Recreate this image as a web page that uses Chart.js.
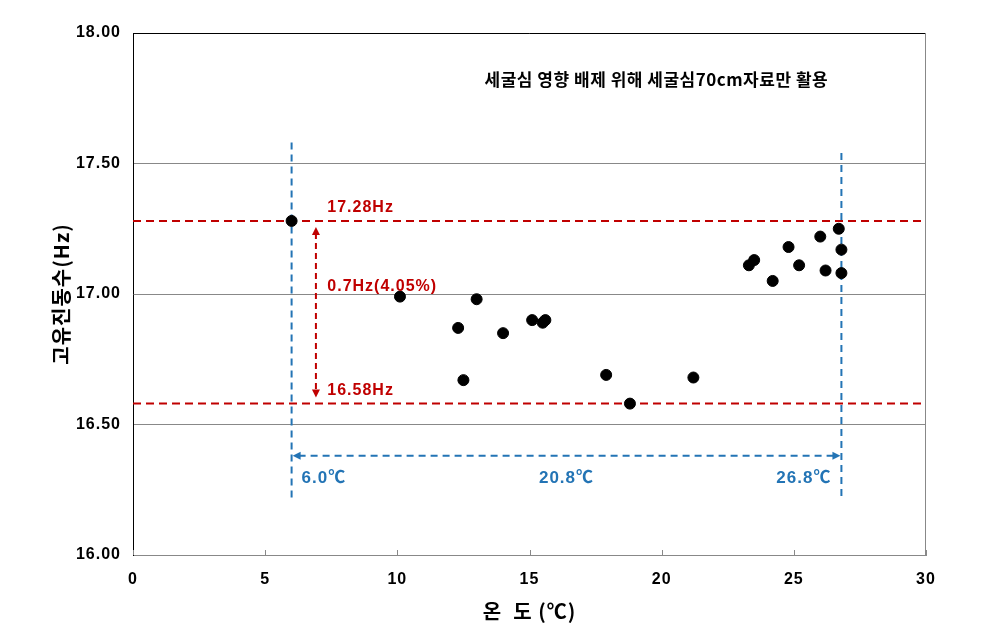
<!DOCTYPE html>
<html>
<head>
<meta charset="utf-8">
<script src="https://cdn.jsdelivr.net/npm/chart.js@4.4.1/dist/chart.umd.min.js"></script>
<style>
  html, body { margin: 0; padding: 0; background: #fff; }
  #wrap { width: 982px; height: 640px; }
</style>
</head>
<body>
<div id="wrap"><canvas id="freqChart"></canvas></div>
<script>
// natural frequency vs. temperature (scour depth 70cm records only)
const temps = [6.0, 10.1, 12.3, 12.5, 13.0, 14.0, 15.1, 15.5, 15.6, 17.9, 18.8, 21.2,
               23.3, 23.5, 24.2, 24.8, 25.2, 26.0, 26.2, 26.7, 26.8, 26.8];
const freqs = [17.28, 16.99, 16.87, 16.67, 16.98, 16.85, 16.90, 16.89, 16.90, 16.69, 16.58, 16.68,
               17.11, 17.13, 17.05, 17.18, 17.11, 17.22, 17.09, 17.25, 17.17, 17.08];
const xTicks = [0, 5, 10, 15, 20, 25, 30];
const yTicks = [16.0, 16.5, 17.0, 17.5, 18.0];

// range markers
const freqRange = [16.58, 17.28];
const tempRange = [6.0, 26.8];

const RED = '#C00000';
const BLUE = '#2374B5';
const LATIN = '"Liberation Sans", Arial, "Noto Sans CJK KR", sans-serif';

// where the guide lines / arrows / notes sit (data units)
const guide = {
  blueTop: [17.58, 17.54],
  blueBottom: [16.21, 16.22],
  blueArrowY: 16.38,
  redArrowX: 6.92,
  redLabelX: 7.35,
  tempLabelY: 16.295,
  noteX: 19.8,
  noteY: 17.82
};

const points = temps.map((t, i) => ({ x: t, y: freqs[i] }));

const datasets = [
  {
    data: points,
    backgroundColor: '#000',
    borderColor: '#000',
    pointRadius: 5.5,
    pointHoverRadius: 5.5,
    order: 0
  }
];
// red dashed limits across the whole plot
freqRange.forEach(f => datasets.push({
  data: [{ x: xTicks[0], y: f }, { x: xTicks[xTicks.length - 1], y: f }],
  showLine: true, pointRadius: 0, borderColor: RED, borderWidth: 2,
  borderDash: [8, 5], order: 1
}));
// blue dashed temperature limits
tempRange.forEach((t, i) => datasets.push({
  data: [{ x: t, y: guide.blueTop[i] }, { x: t, y: guide.blueBottom[i] }],
  showLine: true, pointRadius: 0, borderColor: BLUE, borderWidth: 2,
  borderDash: [7, 5], order: 1
}));

function arrowHead(ctx, x, y, dir, size) {
  // dir: 'up','down','left','right' — tip at (x,y)
  ctx.beginPath();
  ctx.moveTo(x, y);
  if (dir === 'up') { ctx.lineTo(x - size / 2, y + size); ctx.lineTo(x + size / 2, y + size); }
  if (dir === 'down') { ctx.lineTo(x - size / 2, y - size); ctx.lineTo(x + size / 2, y - size); }
  if (dir === 'left') { ctx.lineTo(x + size, y - size / 2); ctx.lineTo(x + size, y + size / 2); }
  if (dir === 'right') { ctx.lineTo(x - size, y - size / 2); ctx.lineTo(x - size, y + size / 2); }
  ctx.closePath();
  ctx.fill();
}

const guidePlugin = {
  id: 'guides',
  beforeDraw(chart) {
    // slightly spaced glyphs like the original
    chart.ctx.letterSpacing = '1px';
  },
  beforeDatasetsDraw(chart) {
    const { ctx, chartArea: a, scales: { x } } = chart;
    ctx.save();
    // small inside tick marks on the x axis
    ctx.strokeStyle = '#888';
    ctx.lineWidth = 1;
    xTicks.forEach(v => {
      const px = Math.round(x.getPixelForValue(v)) + 0.5;
      ctx.beginPath();
      ctx.moveTo(px, a.bottom);
      ctx.lineTo(px, a.bottom - 5);
      ctx.stroke();
    });
    // frame: dark top, grey right
    ctx.strokeStyle = '#000';
    ctx.beginPath();
    ctx.moveTo(a.left, a.top + 0.5);
    ctx.lineTo(a.right, a.top + 0.5);
    ctx.stroke();
    ctx.strokeStyle = '#888';
    ctx.beginPath();
    ctx.moveTo(a.right - 0.5, a.top);
    ctx.lineTo(a.right - 0.5, a.bottom);
    ctx.stroke();
    ctx.restore();
  },
  afterDatasetsDraw(chart) {
    const { ctx, scales: { x, y } } = chart;
    ctx.save();

    // red vertical double arrow between frequency limits
    const rx = x.getPixelForValue(guide.redArrowX);
    const yHi = y.getPixelForValue(freqRange[1]) + 6;
    const yLo = y.getPixelForValue(freqRange[0]) - 6;
    ctx.strokeStyle = RED;
    ctx.fillStyle = RED;
    ctx.lineWidth = 2;
    ctx.setLineDash([6, 4]);
    ctx.beginPath();
    ctx.moveTo(rx, yHi + 6);
    ctx.lineTo(rx, yLo - 6);
    ctx.stroke();
    ctx.setLineDash([]);
    arrowHead(ctx, rx, yHi, 'up', 8);
    arrowHead(ctx, rx, yLo, 'down', 8);

    // blue horizontal double arrow between temperature limits
    const by = y.getPixelForValue(guide.blueArrowY);
    const xL = x.getPixelForValue(tempRange[0]) + 1;
    const xR = x.getPixelForValue(tempRange[1]) - 1;
    ctx.strokeStyle = BLUE;
    ctx.fillStyle = BLUE;
    ctx.setLineDash([7, 5]);
    ctx.beginPath();
    ctx.moveTo(xL + 6, by);
    ctx.lineTo(xR - 6, by);
    ctx.stroke();
    ctx.setLineDash([]);
    arrowHead(ctx, xL, by, 'left', 8);
    arrowHead(ctx, xR, by, 'right', 8);

    ctx.letterSpacing = '1px';
    ctx.font = 'bold 16px ' + LATIN;
    ctx.textBaseline = 'middle';

    // red labels
    ctx.fillStyle = RED;
    ctx.textAlign = 'left';
    const lx = x.getPixelForValue(guide.redLabelX);
    const diff = freqRange[1] - freqRange[0];
    const pct = diff / freqRange[1] * 100;
    ctx.fillText(freqRange[1].toFixed(2) + 'Hz', lx, y.getPixelForValue(freqRange[1]) - 13);
    ctx.fillText(diff.toFixed(1) + 'Hz(' + pct.toFixed(2) + '%)', lx, y.getPixelForValue((freqRange[0] + freqRange[1]) / 2 + 0.1));
    ctx.fillText(freqRange[0].toFixed(2) + 'Hz', lx, y.getPixelForValue(freqRange[0]) - 13);

    // blue labels
    ctx.fillStyle = BLUE;
    ctx.font = 'bold 17px ' + LATIN;
    const ty = y.getPixelForValue(guide.tempLabelY);
    ctx.textAlign = 'left';
    ctx.fillText(tempRange[0].toFixed(1) + '℃', x.getPixelForValue(tempRange[0]) + 10, ty);
    ctx.textAlign = 'center';
    ctx.fillText((tempRange[1] - tempRange[0]).toFixed(1) + '℃', x.getPixelForValue((tempRange[0] + tempRange[1]) / 2), ty);
    ctx.textAlign = 'right';
    ctx.fillText(tempRange[1].toFixed(1) + '℃', x.getPixelForValue(tempRange[1]) - 10, ty);

    // note
    ctx.letterSpacing = '0.5px';
    ctx.fillStyle = '#000';
    ctx.textAlign = 'center';
    ctx.font = 'bold 17px "Noto Sans CJK KR", ' + LATIN;
    ctx.fillText('세굴심 영향 배제 위해 세굴심70cm자료만 활용', x.getPixelForValue(guide.noteX), y.getPixelForValue(guide.noteY));
    ctx.restore();
  }
};

const tickFont = { family: LATIN, weight: 'bold', size: 16 };
const titleFont = { family: '"Noto Sans CJK KR", ' + LATIN, weight: 'bold', size: 20 };

new Chart(document.getElementById('freqChart'), {
  type: 'scatter',
  data: { datasets: datasets },
  options: {
    responsive: true,
    maintainAspectRatio: false,
    animation: false,
    layout: { padding: { top: 33, right: 56, bottom: 0, left: 0 } },
    plugins: { legend: { display: false }, tooltip: { enabled: false } },
    scales: {
      x: {
        type: 'linear',
        min: xTicks[0],
        max: xTicks[xTicks.length - 1],
        afterBuildTicks: s => { s.ticks = xTicks.map(v => ({ value: v })); },
        afterFit: s => { s.height = 85; },
        grid: { display: true, drawOnChartArea: false, drawTicks: false },
        border: { color: '#888', width: 1 },
        ticks: { color: '#000', font: tickFont, padding: 15, maxRotation: 0 },
        title: { display: true, text: '온  도 (℃)', color: '#000', font: titleFont, padding: { top: 0, bottom: 17 } }
      },
      y: {
        type: 'linear',
        min: yTicks[0],
        max: yTicks[yTicks.length - 1],
        afterBuildTicks: s => { s.ticks = yTicks.map(v => ({ value: v })); },
        afterFit: s => { s.width = 133; },
        grid: { color: '#888', lineWidth: 1, drawTicks: false },
        border: { color: '#000', width: 1 },
        ticks: { color: '#000', font: tickFont, padding: 12, callback: v => Number(v).toFixed(2) },
        title: { display: true, text: '고유진동수(Hz)', color: '#000', font: titleFont, padding: { top: 49, bottom: 0 } }
      }
    }
  },
  plugins: [guidePlugin]
});
</script>
</body>
</html>
